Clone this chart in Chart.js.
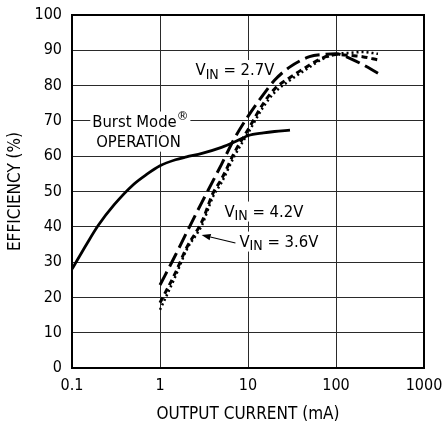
<!DOCTYPE html>
<html>
<head>
<meta charset="utf-8">
<script src="https://cdn.jsdelivr.net/npm/chart.js@4/dist/chart.umd.min.js"></script>
<style>
  html, body { margin: 0; padding: 0; background: #fff; }
  #c { display: block; }
</style>
</head>
<body>
<canvas id="c" width="443" height="425" style="width:443px;height:425px"></canvas>
<script>
// Axis ticks
const currentTicks = [0.1, 1, 10, 100, 1000];          // mA
const efficiencyTicks = [0, 10, 20, 30, 40, 50, 60, 70, 80, 90, 100]; // %

// Burst Mode operation
const burstCurrent = [0.1, 0.15, 0.2, 0.3, 0.5, 0.7, 1, 1.5, 2, 3, 5, 7, 10, 15, 20, 30];
const burstEff     = [28, 35.5, 40.5, 46.2, 52, 54.8, 57.3, 59, 59.8, 60.8, 62.5, 64, 65.8, 66.6, 67, 67.4];

// Constant-frequency curves for each input voltage
const vinCurrent = [1, 1.5, 2, 3, 4, 5, 7, 10, 15, 20, 30, 50, 70, 100, 150, 200, 300];
const eff27 = [23.5, 32, 38.3, 47, 53, 57.7, 65, 71.3, 77.5, 81.5, 85.3, 88.2, 88.8, 89, 87.5, 86, 83.5];
const eff42 = [18.5, 27, 34, 41.5, 49.5, 53.5, 61, 67.5, 75, 79, 82.3, 85.8, 87.8, 88.8, 88.5, 88.2, 87.3];
const eff36 = [16.5, 26, 33.4, 40.5, 48.5, 52.5, 60, 66.5, 74, 78, 81.5, 85.2, 87.5, 88.9, 89.3, 89.5, 89];

const FONT = "'DejaVu Sans Condensed', 'Liberation Sans Narrow', sans-serif";

const toPoints = (xs, ys) => xs.map((x, i) => ({ x: x, y: ys[i] }));

const curveStyle = {
  borderColor: '#000',
  pointRadius: 0,
  fill: false,
  cubicInterpolationMode: 'monotone'
};

// Frame around the plot area
const framePlugin = {
  id: 'frame',
  beforeDatasetsDraw(chart) {
    const { ctx, chartArea: a } = chart;
    ctx.save();
    ctx.strokeStyle = '#000';
    ctx.lineWidth = 2;
    ctx.strokeRect(a.left, a.top, a.right - a.left, a.bottom - a.top);
    ctx.restore();
  }
};

// Curve labels: each part is [text, fontSize, baselineShift]
const labelSpecs = [
  { x: 0.17,  y: 68.4, parts: [['Burst Mode', 16.5, 0], ['\u00AE', 13, -7]] },
  { x: 0.188, y: 62.7, parts: [['OPERATION', 16.5, 0]] },
  { x: 2.53,  y: 83.0, parts: [['V', 16.5, 0], ['IN', 14, 3.5], [' = 2.7V', 16.5, 0]] },
  { x: 5.4,   y: 42.9, parts: [['V', 16.5, 0], ['IN', 14, 3.5], [' = 4.2V', 16.5, 0]] },
  { x: 8.0,   y: 34.4, parts: [['V', 16.5, 0], ['IN', 14, 3.5], [' = 3.6V', 16.5, 0]] }
];
const arrowSpec = { from: [7.2, 35.4], to: [2.97, 37.7] };

const labelPlugin = {
  id: 'curveLabels',
  beforeDatasetsDraw(chart) {
    const { ctx, scales: { x: xs, y: ys } } = chart;
    ctx.save();
    ctx.textBaseline = 'alphabetic';
    ctx.textAlign = 'left';
    labelSpecs.forEach(spec => {
      const px = xs.getPixelForValue(spec.x);
      const py = ys.getPixelForValue(spec.y);
      let w = 0;
      spec.parts.forEach(p => {
        ctx.font = p[1] + 'px ' + FONT;
        w += ctx.measureText(p[0]).width;
      });
      ctx.fillStyle = '#fff';
      ctx.fillRect(px - 2, py - 15, w + 4, 20);
      let cx = px;
      ctx.fillStyle = '#000';
      spec.parts.forEach(p => {
        ctx.font = p[1] + 'px ' + FONT;
        ctx.fillText(p[0], cx, py + p[2]);
        cx += ctx.measureText(p[0]).width;
      });
    });
    // arrow pointing at the 3.6V curve
    const x1 = xs.getPixelForValue(arrowSpec.from[0]), y1 = ys.getPixelForValue(arrowSpec.from[1]);
    const x2 = xs.getPixelForValue(arrowSpec.to[0]),   y2 = ys.getPixelForValue(arrowSpec.to[1]);
    const ang = Math.atan2(y2 - y1, x2 - x1);
    const head = 9, half = 3.2;
    const bx = x2 - head * Math.cos(ang), by = y2 - head * Math.sin(ang);
    ctx.strokeStyle = '#000';
    ctx.lineWidth = 1.2;
    ctx.beginPath();
    ctx.moveTo(x1, y1);
    ctx.lineTo(bx, by);
    ctx.stroke();
    ctx.fillStyle = '#000';
    ctx.beginPath();
    ctx.moveTo(x2, y2);
    ctx.lineTo(bx + half * Math.sin(ang), by - half * Math.cos(ang));
    ctx.lineTo(bx - half * Math.sin(ang), by + half * Math.cos(ang));
    ctx.closePath();
    ctx.fill();
    ctx.restore();
  }
};

new Chart(document.getElementById('c'), {
  type: 'line',
  data: {
    datasets: [
      Object.assign({ label: 'Burst Mode OPERATION', data: toPoints(burstCurrent, burstEff), borderWidth: 2.8 }, curveStyle),
      Object.assign({ label: 'VIN = 2.7V', data: toPoints(vinCurrent, eff27), borderWidth: 3, borderDash: [15, 6] }, curveStyle),
      Object.assign({ label: 'VIN = 4.2V', data: toPoints(vinCurrent, eff42), borderWidth: 3, borderDash: [6, 4] }, curveStyle),
      Object.assign({ label: 'VIN = 3.6V', data: toPoints(vinCurrent, eff36), borderWidth: 2.5, borderDash: [2, 3] }, curveStyle)
    ]
  },
  options: {
    responsive: false,
    animation: false,
    layout: { padding: { top: 15, right: 19, bottom: 0, left: 0 } },
    plugins: { legend: { display: false }, tooltip: { enabled: false } },
    scales: {
      x: {
        type: 'logarithmic',
        min: currentTicks[0],
        max: currentTicks[currentTicks.length - 1],
        afterBuildTicks: s => { s.ticks = currentTicks.map(v => ({ value: v })); },
        afterFit: s => { s.height = 57; s.paddingLeft = 0; s.paddingRight = 0; },
        ticks: {
          autoSkip: false, maxRotation: 0, padding: 8, color: '#000',
          font: { family: FONT, size: 16 },
          callback: v => String(v)
        },
        grid: { color: '#2a2a2a', lineWidth: 1, drawTicks: false },
        border: { display: true, color: '#000', width: 2 },
        title: {
          display: true, text: 'OUTPUT CURRENT (mA)', color: '#000',
          font: { family: FONT, size: 17 }, padding: { top: 0, bottom: 0 }
        }
      },
      y: {
        min: 0, max: 100,
        afterBuildTicks: s => { s.ticks = efficiencyTicks.map(v => ({ value: v })); },
        afterFit: s => { s.width = 72; s.paddingTop = 0; s.paddingBottom = 0; },
        ticks: { padding: 10, color: '#000', font: { family: FONT, size: 16 } },
        grid: { color: '#2a2a2a', lineWidth: 1, drawTicks: false },
        border: { display: true, color: '#000', width: 2 },
        title: {
          display: true, text: 'EFFICIENCY (%)', color: '#000',
          font: { family: FONT, size: 17 }, padding: { top: 5, bottom: 4 }
        }
      }
    }
  },
  plugins: [framePlugin, labelPlugin]
});
</script>
</body>
</html>
